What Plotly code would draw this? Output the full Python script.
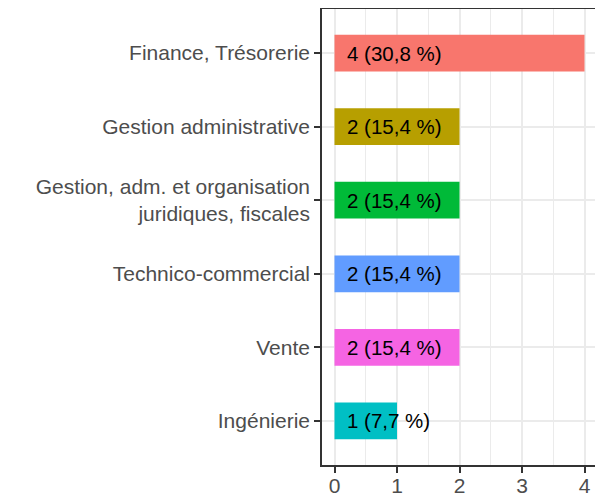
import plotly.graph_objects as go

categories = ["Finance, Trésorerie", "Gestion administrative",
              "Gestion, adm. et organisation<br>juridiques, fiscales",
              "Technico-commercial", "Vente", "Ingénierie"]
counts = [4, 2, 2, 2, 2, 1]
labels = ["4 (30,8 %)", "2 (15,4 %)", "2 (15,4 %)", "2 (15,4 %)", "2 (15,4 %)", "1 (7,7 %)"]
colors = ["#F8766D", "#B79F00", "#00BA38", "#619CFF", "#F564E3", "#00BFC4"]
x_ticks = [0, 1, 2, 3, 4]

FONT = "Liberation Sans, Arial, sans-serif"

fig = go.Figure()
fig.add_trace(go.Bar(
    x=counts, y=categories, orientation="h", width=0.5,
    marker=dict(color=colors, line=dict(width=0)), showlegend=False,
    hoverinfo="skip",
))
for c, lab in zip(categories, labels):
    fig.add_annotation(x=0.17, y=c, text=lab, xanchor="left", yanchor="middle",
                       showarrow=False, font=dict(family=FONT, size=20.5, color="#000000"))

axis_common = dict(
    showline=True, mirror=True, linecolor="#333333", linewidth=1.6,
    ticks="outside", ticklen=6, tickwidth=1.6, tickcolor="#333333",
    tickfont=dict(family=FONT, size=21, color="#4D4D4D"),
    gridcolor="#EBEBEB", gridwidth=1.5, zeroline=False, automargin=False,
)
fig.update_xaxes(range=[-0.2, 4.2], tickvals=x_ticks, ticklabelstandoff=-5,
                 minor=dict(dtick=0.5, tick0=0, showgrid=True, gridcolor="#EBEBEB", gridwidth=0.8, ticks=""),
                 **axis_common)
fig.update_yaxes(type="category", categoryorder="array", categoryarray=categories,
                 range=[5.6, -0.6], **axis_common)

# page body has an 8px default margin: compensate so the panel lands where the reference has it
fig.update_layout(
    width=595, height=489,
    margin=dict(l=314, r=6, t=1, b=32),
    paper_bgcolor="white", plot_bgcolor="white",
    font=dict(family=FONT),
)
fig.write_html("out.html")
